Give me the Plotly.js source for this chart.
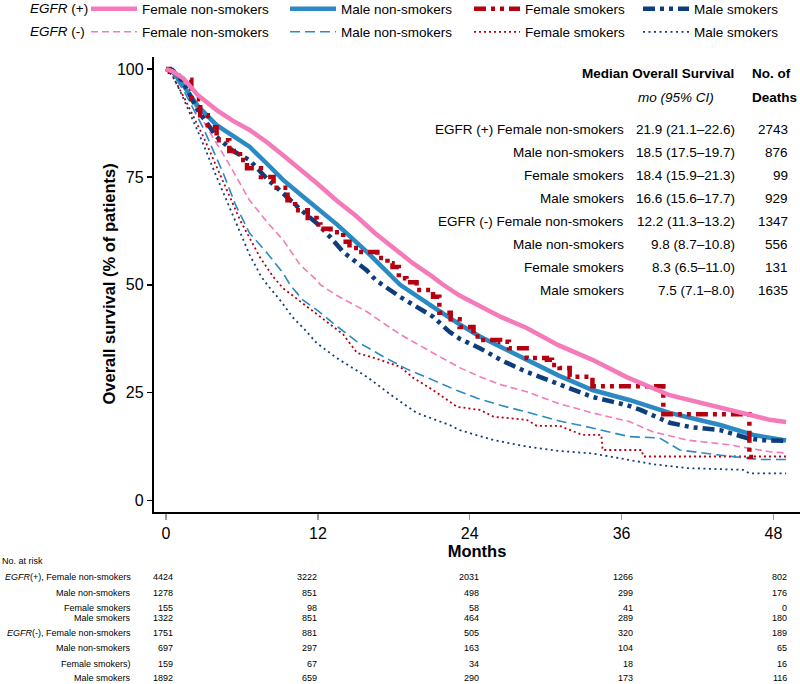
<!DOCTYPE html>
<html>
<head>
<meta charset="utf-8">
<script src="https://cdn.plot.ly/plotly-3.0.1.min.js"></script>
<style>html,body{margin:0;padding:0;background:#fff;}#chart{width:800px;height:684px;}</style>
</head>
<body>
<div id="chart"></div>
<script>
// ---------------- DATA ----------------
// EGFR(+) female non-smokers
const posFNS_t = [0,0.5,1.35,2.5,4.0,5.3,6.6,8,9.25,10.6,11.9,13.5,15,16.5,18,19.5,21,21.9,23.2,24.8,26.5,28.5,31,33.7,36.4,39.8,43.8,47.7,49];
const posFNS_s = [100,99.5,97.9,94,90.5,88,85.9,83,80,76.8,73.6,69.5,66,62,58.5,55,52,50,47.5,45,42.5,40,36,32.6,28.6,24.4,21.4,18.7,18.2];
// EGFR(+) male non-smokers
const posMNS_t = [0,0.5,1.35,2.5,4.0,5.3,6.6,8,9.25,10.6,11.9,13.5,15.85,18.5,21.1,23.2,24.8,26.5,28.5,31,33.7,36.6,39.8,43.8,46.4,49];
const posMNS_s = [100,99.5,96.3,91.5,87,84.5,82,78,74.3,71,68,64,57.7,50,44.9,40.8,38,35.5,32.6,29,25.6,23.3,20.3,17.5,15.2,13.9];
// EGFR(+) female smokers (step)
const posFS_t = [0,0.3,1,2,2.7,3.3,4,5,5.85,6.4,7.5,8.5,9.6,10.2,11.2,11.9,12.2,13,14,14.5,15.2,16.7,17.5,17.9,18.4,19,19.8,21.1,21.6,22.5,23.2,24.3,24.8,26.4,27.1,28.5,30.1,30.5,31.1,31.9,33.7,39.3,46.1,46.7];
const posFS_s = [100,99.4,97.5,93,89.3,86.5,83.5,81,78.9,77,75,72.5,69.6,67.3,65.5,64,63,62.2,60,58.5,57.6,56.2,55,54.1,51.5,50.6,48.8,47.2,43.5,42,40.2,38,37.2,36.8,35.3,33,32.6,31.4,30.7,28.7,26.5,20,10.1,10.1];
// EGFR(+) male smokers
const posMS_t = [0,0.5,1.35,2.5,4,5.3,6.6,8,9.25,10.6,11.9,13,14,15.85,16.6,18.5,21.1,22.4,23.2,24.8,26.5,28.5,31,33.7,36.4,37.5,39.8,41.5,43.8,45.9,47,49];
const posMS_s = [100,99.8,97,90.5,84.3,81,78.9,74.5,71.2,67.5,64.3,61,57.6,53.4,51,47.2,42.6,39.1,37.5,35.3,32.5,29.8,27,24,22.1,21,18,17,16.3,14.5,14,13.8];
// EGFR(-) female non-smokers
const negFNS_t = [0,0.5,1.6,3.2,4.8,6.6,8,9.25,10.6,11.9,12.2,13.5,15.85,18.5,21.1,23.2,24.8,26.5,28.5,31,33.7,36.6,38.5,41.2,44.5,47.7,49];
const negFNS_s = [100,99,95.1,86.6,78.9,69.6,64.5,60.4,54.6,51.1,50,47.5,43.8,38.5,34.2,30.8,28.7,26.8,25.2,22.5,20.3,18.3,15.9,14,12.9,11.3,11];
// EGFR(-) male non-smokers
const negMNS_t = [0,0.5,1.5,3,4.5,5.5,6.6,8,9.25,9.8,10.8,12,13.2,15,17.2,19,21.1,23,24.6,26.5,28.5,31,33.7,36.6,39,40.6,43.8,46.9,49];
const negMNS_s = [100,99,94.5,86,76,68.5,62,57.3,52.7,50,46.5,44,41.1,37,33.3,30.5,27.9,25.5,23.7,22,20.5,18.5,16.8,14.8,14.5,11.7,10.5,9.5,9.5];
// EGFR(-) female smokers
const negFS_t = [0,0.5,1.5,3,4.5,5.85,7.4,8.45,9.25,10.6,12,13.2,14,15.1,16.5,18.5,19.5,21.1,23,24.8,25.9,28.5,29.3,31.1,32.9,34.4,34.5,37.6,37.7,49];
const negFS_s = [100,98.5,93,84,74,65,56.5,51.9,49.2,46.1,43,40.3,38.5,34.2,33,31,28.5,25.6,21.7,21,19.4,18.7,17.3,17.3,15.2,15.2,11.7,11.7,10.2,10.2];
// EGFR(-) male smokers
const negMS_t = [0,0.5,1.1,2.7,4.0,5.3,6.6,7.5,8.0,9.0,10,11,11.9,13.5,15.85,18,19.8,22.4,23.2,25.9,28.5,31,33.7,36.6,38.5,41.2,45.6,46.1,49];
const negMS_s = [100,98.5,95,84.3,75,65.8,57,52,50,46.5,42.5,39.5,36.5,33,28.7,24,20.3,17.5,16.3,14,12.5,11.5,10.9,9.4,8.4,7.5,7.1,6.3,6.3];

const seriesNames = ["Female non-smokers","Male non-smokers","Female smokers","Male smokers"];
const groupLabels = ["<i>EGFR</i> (+)","<i>EGFR</i> (-)"];

// Median table
const medLabels = ["EGFR (+) Female non-smokers","Male non-smokers","Female smokers","Male smokers",
                   "EGFR (-) Female non-smokers","Male non-smokers","Female smokers","Male smokers"];
const medCI = ["21.9 (21.1–22.6)","18.5 (17.5–19.7)","18.4 (15.9–21.3)","16.6 (15.6–17.7)",
               "12.2 (11.3–13.2)","9.8 (8.7–10.8)","8.3 (6.5–11.0)","7.5 (7.1–8.0)"];
const medDeaths = ["2743","876","99","929","1347","556","131","1635"];

// Number at risk
const riskTimes = [0,12,24,36,48];
const riskLabels = ["<i>EGFR</i>(+), Female non-smokers","Male non-smokers","Female smokers","Male smokers",
                    "<i>EGFR</i>(-), Female non-smokers","Male non-smokers","Female smokers)","Male smokers"];
const riskCounts = [
  [4424,3222,2031,1266,802],
  [1278,851,498,299,176],
  [155,98,58,41,0],
  [1322,851,464,289,180],
  [1751,881,505,320,189],
  [697,297,163,104,65],
  [159,67,34,18,16],
  [1892,659,290,173,116]
];
const xTicks = [0,12,24,36,48];
const yTicks = [0,25,50,75,100];

// ---------------- STYLE ----------------
const PINK = '#f47ab9', BLUE = '#2b8ac3', RED = '#b7000f', NAVY = '#0e3d7c';
const FONT = 'Liberation Sans, Arial, Helvetica, sans-serif';

const traces = [
  {x: negMS_t, y: negMS_s, name: seriesNames[3], legend: 'legend8', line:{color:NAVY, width:1.8, dash:'2px,3.5px'}},
  {x: negFS_t, y: negFS_s, name: seriesNames[2], legend: 'legend7', line:{color:RED, width:1.8, dash:'2px,3px'}},
  {x: negMNS_t, y: negMNS_s, name: seriesNames[1], legend: 'legend6', line:{color:BLUE, width:1.6, dash:'10px,5px'}},
  {x: negFNS_t, y: negFNS_s, name: seriesNames[0], legend: 'legend5', line:{color:PINK, width:1.6, dash:'7px,4px'}},
  {x: posMNS_t, y: posMNS_s, name: seriesNames[1], legend: 'legend2', line:{color:BLUE, width:4.5}},
  {x: posMS_t, y: posMS_s, name: seriesNames[3], legend: 'legend4', line:{color:NAVY, width:4.5, dash:'12px,5px,4px,5px,4px,5px'}},
  {x: posFS_t, y: posFS_s, name: seriesNames[2], legend: 'legend3', line:{color:RED, width:4.5, dash:'12px,5px,4px,5px,4px,5px', shape:'hv'}},
  {x: posFNS_t, y: posFNS_s, name: seriesNames[0], legend: 'legend', line:{color:PINK, width:4.5}}
].map(t => Object.assign({type:'scatter', mode:'lines', hoverinfo:'skip'}, t));

// legend placement (container coords)
const legTextX = [144, 343, 527, 696];
const legRowY = [9, 32];
const legendKeys = ['legend','legend2','legend3','legend4','legend5','legend6','legend7','legend8'];
const layout = {
  width: 800, height: 684,
  margin: {l:154, r:0, t:57, b:172, autoexpand:false},
  paper_bgcolor:'#fff', plot_bgcolor:'#fff',
  font: {family: FONT, color:'#000'},
  showlegend: true,
  xaxis: {
    range: [-0.95, 50.1], tickvals: xTicks, ticktext: xTicks.map(String),
    ticks:'outside', ticklen:6, tickwidth:1.5, tickcolor:'#9a9a9a',
    showline:true, linecolor:'#000', linewidth:2.2, showgrid:false, zeroline:false,
    tickfont:{size:16, family:FONT},
    title:{text:'<b>Months</b>', font:{size:16.5, family:FONT}, standoff:2}
  },
  yaxis: {
    range: [-2.67, 102.8], tickvals: yTicks, ticktext: yTicks.map(String),
    ticks:'outside', ticklen:5, tickwidth:1.5, tickcolor:'#000',
    showline:true, linecolor:'#000', linewidth:2.2, showgrid:false, zeroline:false,
    tickfont:{size:16, family:FONT}
  },
  annotations: []
};

legendKeys.forEach((k, i) => {
  const col = i % 4, row = Math.floor(i / 4);
  layout[k] = {
    xref:'container', yref:'container',
    x: (legTextX[col] - 58) / 800, xanchor:'left',
    y: 1 - legRowY[row] / 684, yanchor:'middle',
    bgcolor:'rgba(0,0,0,0)', borderwidth:0,
    font:{size:13.5, family:FONT, color:'#000'},
    itemwidth:46
  };
});

function pxX(px){ return (px-154)/646; }
function pxY(py){ return (512-py)/455; }

// y-axis title
layout.annotations.push({xref:'paper', yref:'paper', x:pxX(108), y:0.5, xanchor:'center', yanchor:'middle', textangle:-90,
  text:'<b>Overall survival (% of patients)</b>', showarrow:false, font:{size:16.5, family:FONT, color:'#000'}});

// legend row headers
groupLabels.forEach((g, r) => {
  layout.annotations.push({xref:'paper', yref:'paper', x:pxX(28), y:pxY(legRowY[r]),
    xanchor:'left', yanchor:'middle', text:g, showarrow:false, font:{size:13.5, family:FONT, color:'#000'}});
});

// median table
const tf = {size:13.5, family:FONT, color:'#000'};
layout.annotations.push({xref:'paper', yref:'paper', x:pxX(736), y:pxY(74), xanchor:'right', yanchor:'middle', text:'<b>Median Overall Survival</b>', showarrow:false, font:tf});
layout.annotations.push({xref:'paper', yref:'paper', x:pxX(750), y:pxY(74), xanchor:'left', yanchor:'middle', text:'<b>No. of</b>', showarrow:false, font:tf});
layout.annotations.push({xref:'paper', yref:'paper', x:pxX(676), y:pxY(97), xanchor:'center', yanchor:'middle', text:'<i>mo (95% CI)</i>', showarrow:false, font:tf});
layout.annotations.push({xref:'paper', yref:'paper', x:pxX(750), y:pxY(97), xanchor:'left', yanchor:'middle', text:'<b>Deaths</b>', showarrow:false, font:tf});
const medRowY = [129,152,175,198,221,244,267,290];
medLabels.forEach((lab, i) => {
  layout.annotations.push({xref:'paper', yref:'paper', x:pxX(626), y:pxY(medRowY[i]), xanchor:'right', yanchor:'middle', text:lab, showarrow:false, font:tf});
  layout.annotations.push({xref:'paper', yref:'paper', x:pxX(737), y:pxY(medRowY[i]), xanchor:'right', yanchor:'middle', text:medCI[i], showarrow:false, font:tf});
  layout.annotations.push({xref:'paper', yref:'paper', x:pxX(790), y:pxY(medRowY[i]), xanchor:'right', yanchor:'middle', text:medDeaths[i], showarrow:false, font:tf});
});

// number at risk table
const rf = {size:9, family:FONT, color:'#000'};
const riskRowY = [577,592.5,607.5,618,633,648,663.5,678];
const riskShift = [9,1.5,11.5,13,16];
layout.annotations.push({xref:'paper', yref:'paper', x:pxX(0), y:pxY(561), xanchor:'left', yanchor:'middle', text:'No. at risk', showarrow:false, font:rf});
riskLabels.forEach((lab, i) => {
  layout.annotations.push({xref:'paper', yref:'paper', x:pxX(133), y:pxY(riskRowY[i]), xanchor:'right', yanchor:'middle', text:lab, showarrow:false, font:rf});
  riskTimes.forEach((t, j) => {
    layout.annotations.push({xref:'x', yref:'paper', x:t, xshift:riskShift[j], y:pxY(riskRowY[i]), xanchor:'right', yanchor:'middle', text:String(riskCounts[i][j]), showarrow:false, font:rf});
  });
});

Plotly.newPlot('chart', traces, layout, {displayModeBar:false, staticPlot:true});
</script>
</body>
</html>
